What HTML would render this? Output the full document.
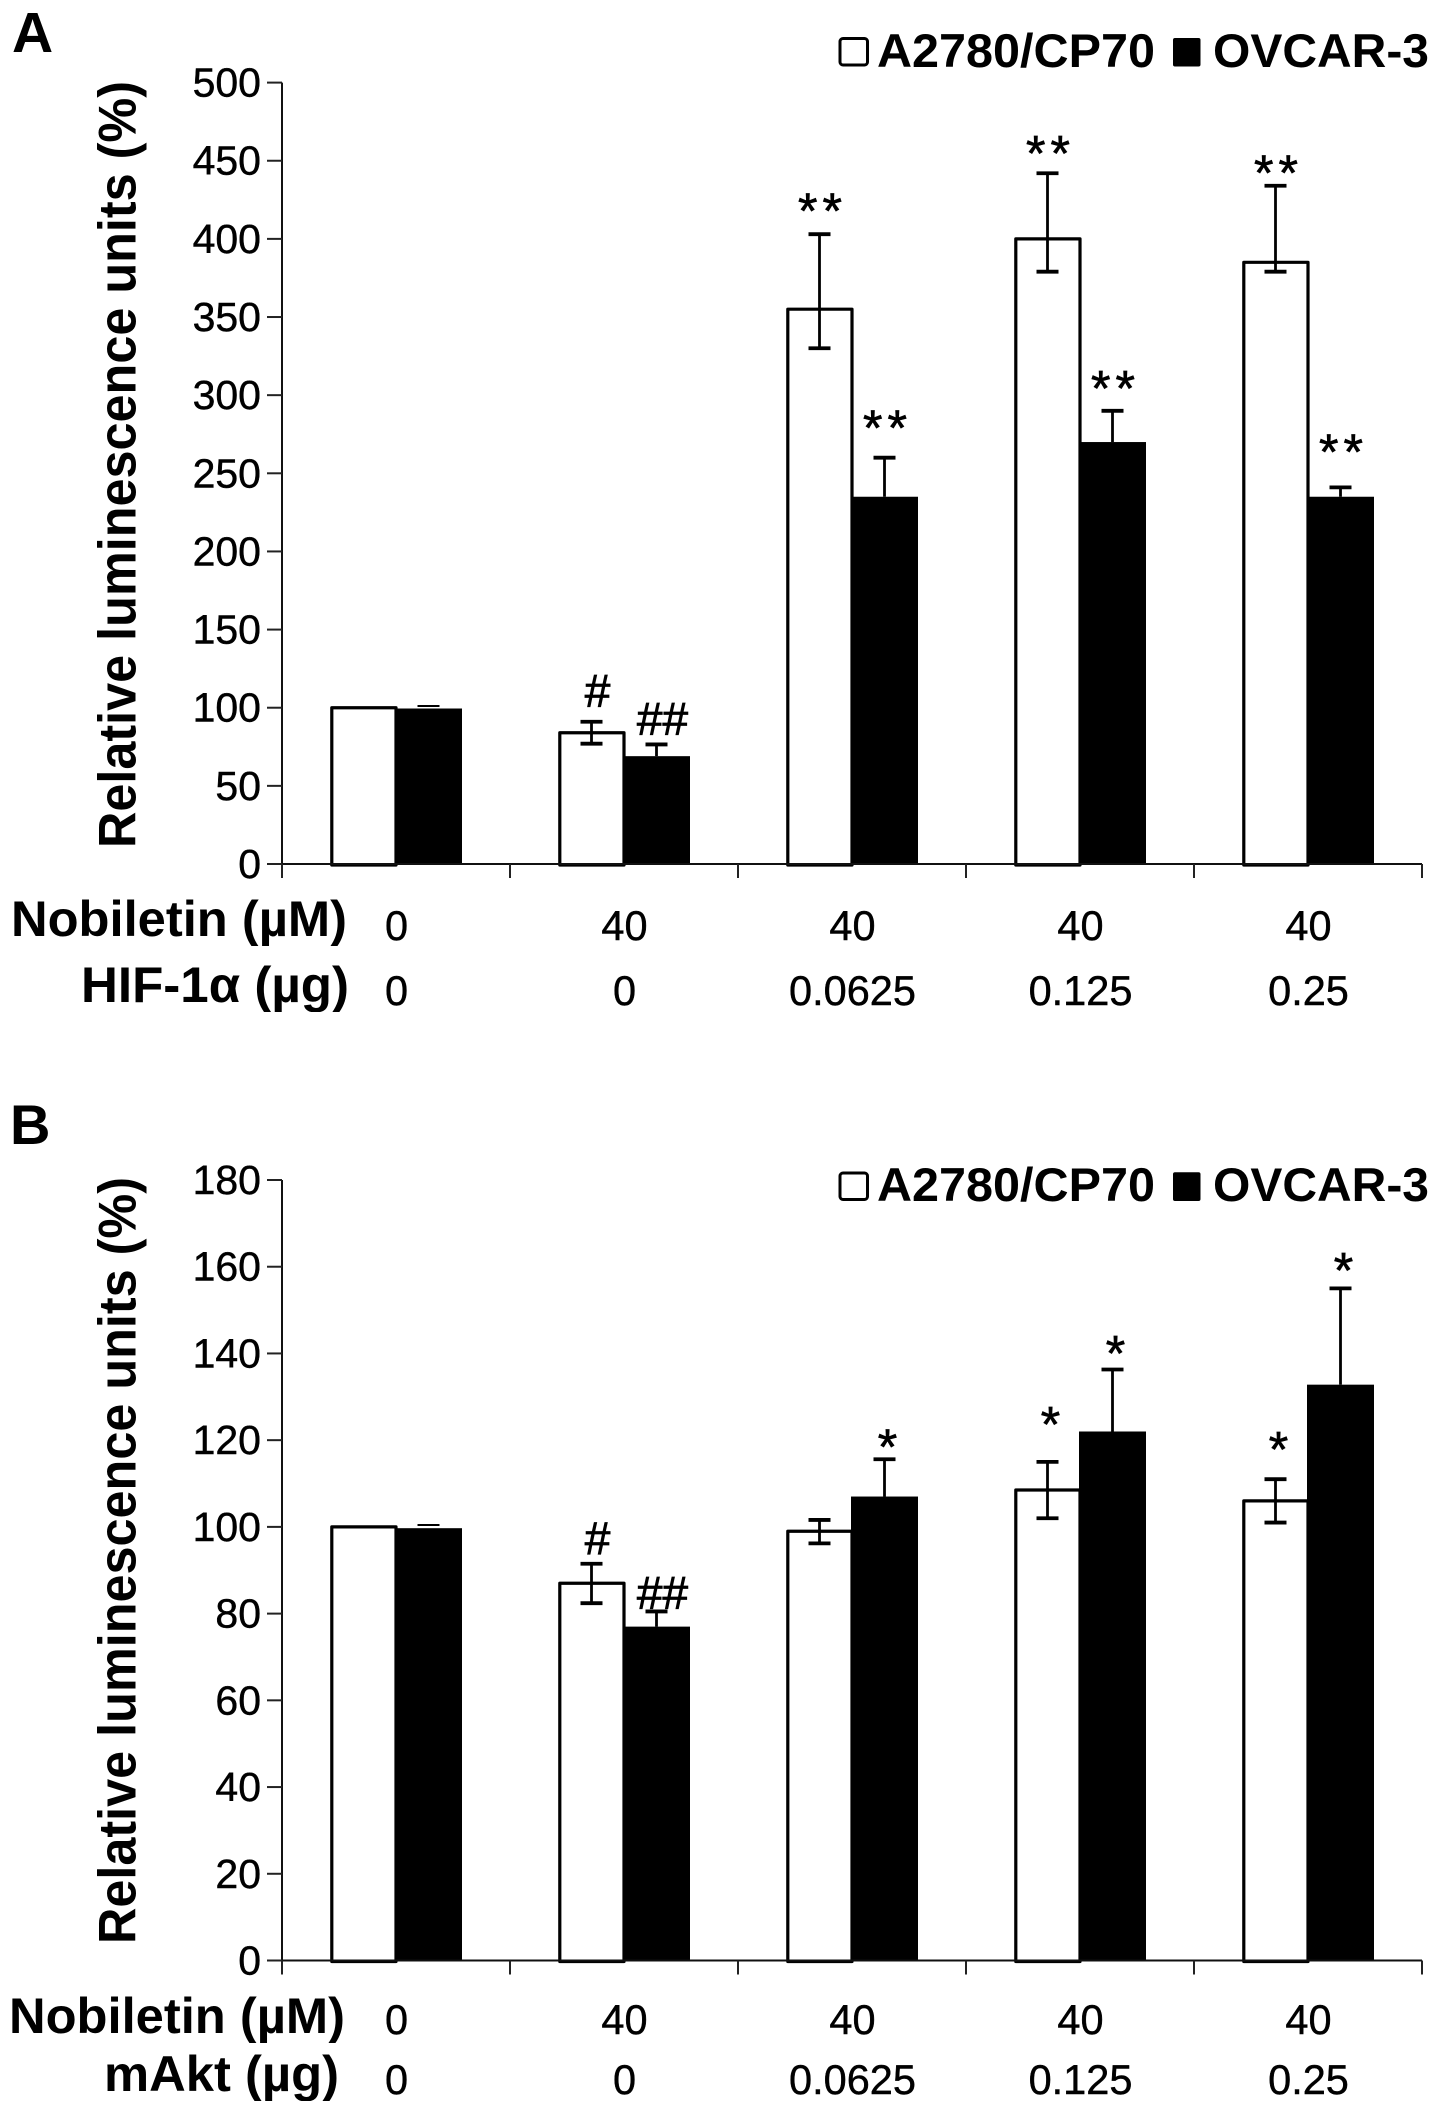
<!DOCTYPE html>
<html lang="en">
<head>
<meta charset="utf-8">
<title>Relative luminescence bar charts</title>
<style>
html,body{margin:0;padding:0;background:#fff;}
svg{display:block;}
text{font-family:"Liberation Sans",Arial,sans-serif;fill:#000;}
.bold{font-weight:bold;}
.tick{font-size:41px;stroke:#000;stroke-width:0.45px;}
.dose{font-size:41.5px;stroke:#000;stroke-width:0.45px;}
</style>
</head>
<body>
<svg id="figure" xmlns="http://www.w3.org/2000/svg" width="1441" height="2114" viewBox="0 0 1441 2114">
  <defs>
    <clipPath id="clip-a1"><rect x="0" y="890" width="360" height="56"/></clipPath>
    <clipPath id="clip-a2"><rect x="0" y="955" width="360" height="57"/></clipPath>
    <clipPath id="clip-b1"><rect x="0" y="1985" width="360" height="58"/></clipPath>
    <clipPath id="clip-b2"><rect x="0" y="2048" width="360" height="53"/></clipPath>
  </defs>
  <rect x="0" y="0" width="1441" height="2114" fill="#fff"/>

  <text class="bold" x="12" y="52" font-size="57">A</text>
  <text class="bold" x="10" y="1144" font-size="56">B</text>

  <text class="bold" transform="translate(135.5,848) rotate(-90)" font-size="53" textLength="767" lengthAdjust="spacingAndGlyphs">Relative luminescence units (%)</text>
  <text class="bold" transform="translate(135.5,1944) rotate(-90)" font-size="53" textLength="767" lengthAdjust="spacingAndGlyphs">Relative luminescence units (%)</text>

  <g>
    <rect x="840" y="38.5" width="27.5" height="26.5" rx="3" fill="#fff" stroke="#000" stroke-width="3"/>
    <text class="bold" x="877" y="67" font-size="47" textLength="278" lengthAdjust="spacingAndGlyphs">A2780/CP70</text>
    <rect x="1173" y="38" width="27.5" height="28.5" rx="2" fill="#000"/>
    <text class="bold" x="1213" y="67" font-size="47" textLength="216" lengthAdjust="spacingAndGlyphs">OVCAR-3</text>
  </g>
  <g>
    <rect x="840" y="1173" width="27.5" height="26.5" rx="3" fill="#fff" stroke="#000" stroke-width="3"/>
    <text class="bold" x="877" y="1201" font-size="47" textLength="278" lengthAdjust="spacingAndGlyphs">A2780/CP70</text>
    <rect x="1173" y="1172.3" width="27.5" height="28.7" rx="2" fill="#000"/>
    <text class="bold" x="1213" y="1201" font-size="47" textLength="216" lengthAdjust="spacingAndGlyphs">OVCAR-3</text>
  </g>

  <text class="bold" clip-path="url(#clip-a1)" x="11" y="936" font-size="50" textLength="336" lengthAdjust="spacingAndGlyphs">Nobiletin (µM)</text>
  <text class="bold" clip-path="url(#clip-a2)" x="81" y="1002" font-size="50" textLength="268" lengthAdjust="spacingAndGlyphs">HIF-1α (µg)</text>
  <text class="bold" clip-path="url(#clip-b1)" x="9" y="2033" font-size="50" textLength="336" lengthAdjust="spacingAndGlyphs">Nobiletin (µM)</text>
  <text class="bold" clip-path="url(#clip-b2)" x="104" y="2091" font-size="50" textLength="235" lengthAdjust="spacingAndGlyphs">mAkt (µg)</text>

  <g id="panel-a"></g>
  <g id="panel-b"></g>
</svg>

<script>
// Shared categories
var nobiletinDose = ['0', '40', '40', '40', '40'];
var plasmidDose = ['0', '0', '0.0625', '0.125', '0.25'];

// Panel A values
var ticksA = [0, 50, 100, 150, 200, 250, 300, 350, 400, 450, 500];
var whiteA = [100, 84, 355, 400, 385];
var blackA = [99.5, 69, 235, 270, 235];
var whiteHighA = [100, 91, 403, 442, 434];
var whiteLowA = [100, 77, 330, 379, 379];
var blackHighA = [100.5, 76.5, 260, 290, 241];
var sigWhiteA = ['', '#', '**', '**', '**'];
var sigBlackA = ['', '##', '**', '**', '**'];
var sigGapWhiteA = [0, 9.4, 13.4, 10.9, 6.4];
var sigGapBlackA = [0, 6, 17.3, 12.8, 21];

// Panel B values
var ticksB = [0, 20, 40, 60, 80, 100, 120, 140, 160, 180];
var whiteB = [100, 87, 99, 108.5, 106];
var blackB = [99.7, 77, 107, 122, 132.8];
var whiteHighB = [100, 91.5, 101.6, 115, 111];
var whiteLowB = [100, 82.4, 96.2, 102, 101];
var blackHighB = [100.2, 80.5, 115.6, 136.3, 155];
var sigWhiteB = ['', '#', '', '*', '*'];
var sigBlackB = ['', '##', '*', '*', '*'];
var sigGapWhiteB = [0, 2.1, 0, 8, 6.3];
var sigGapBlackB = [0, 0.6, 2.3, 3.1, 3.5];

var SVG_NS = 'http://www.w3.org/2000/svg';

function make(parent, tag, attrs, content) {
  var node = document.createElementNS(SVG_NS, tag);
  for (var key in attrs) {
    node.setAttribute(key, attrs[key]);
  }
  if (content !== undefined) {
    node.textContent = content;
  }
  parent.appendChild(node);
  return node;
}

function drawPanel(root, prefix, opts) {
  var axisX = 282;
  var plotRight = 1422;
  var groupCount = nobiletinDose.length;
  var groupStep = (plotRight - axisX) / groupCount;
  var barW = 65;

  function xCenter(i) {
    return axisX + groupStep * (i + 0.5);
  }
  function yPos(v) {
    return opts.y0 - (v / opts.max) * (opts.y0 - opts.yTop);
  }

  var el;

  // Bars first so that axes and error bars overlay them
  for (var b = 0; b < groupCount; b++) {
    var cx = xCenter(b);

    el = make(root, 'rect', {x: cx - barW + 0.8, y: yPos(opts.white[b]), width: barW - 0.8, height: opts.y0 - yPos(opts.white[b]) + 1, fill: '#fff', stroke: '#000', 'stroke-width': 3.2, 'stroke-linejoin': 'round'});
    
    

    el = make(root, 'rect', {x: cx - 1, y: yPos(opts.black[b]), width: barW + 2, height: opts.y0 - yPos(opts.black[b]) + 1, fill: '#000'});
    
    
  }

  // Y axis
  el = make(root, 'line', {x1: axisX, x2: axisX, y1: yPos(opts.max), y2: opts.y0 + 14, stroke: '#111', 'stroke-width': 2});
  
  

  // X axis
  el = make(root, 'line', {x1: axisX - 15, x2: plotRight, y1: opts.y0, y2: opts.y0, stroke: '#111', 'stroke-width': 2});
  
  

  // Y ticks
  opts.ticks.forEach(function (t) {
    var y = yPos(t);
    var mark = make(root, 'line', {x1: axisX - 15, x2: axisX, y1: y, y2: y, stroke: '#222', 'stroke-width': 2});
    
    
    var label = make(root, 'text', {x: 261, y: y + 14, 'text-anchor': 'end', 'class': 'tick'}, String(t));
    
    
  });

  // X ticks
  for (var k = 0; k <= groupCount; k++) {
    var tx = axisX + groupStep * k;
    el = make(root, 'line', {x1: tx, x2: tx, y1: opts.y0, y2: opts.y0 + 14, stroke: '#222', 'stroke-width': 2});
    
    
  }

  // Error bars
  function errorBar(x, yHigh, yLow, name) {
    var g = make(root, 'g', {stroke: '#000'});
    
    
    make(g, 'line', {x1: x, x2: x, y1: yHigh, y2: yLow, 'stroke-width': 2.8});
    make(g, 'line', {x1: x - 11, x2: x + 11, y1: yHigh, y2: yHigh, 'stroke-width': 3.8});
    if (yLow !== null && name.indexOf('a2780') !== -1) {
      make(g, 'line', {x1: x - 11, x2: x + 11, y1: yLow, y2: yLow, 'stroke-width': 3.8});
    }
  }

  // Significance marks
  function sigMark(x, symbol, yBottom, name) {
    var isStar = symbol.charAt(0) === '*';
    var size = isStar ? 50 : 46;
    var attrs = {x: isStar ? x : x + 3, y: isStar ? yBottom + 0.29 * size : yBottom, 'text-anchor': 'middle', 'font-size': size};
    if (isStar) {
      attrs['letter-spacing'] = symbol.length > 1 ? 5 : 0;
      attrs.stroke = '#000';
      attrs['stroke-width'] = 0.7;
    } else {
      attrs.stroke = '#000';
      attrs['stroke-width'] = 0.8;
    }
    var t = make(root, 'text', attrs, symbol);
    
    
  }

  for (var i = 1; i < groupCount; i++) {
    var c = xCenter(i);
    errorBar(c - barW / 2, yPos(opts.whiteHigh[i]), yPos(opts.whiteLow[i]), prefix + '-error-a2780-' + i);
    errorBar(c + barW / 2, yPos(opts.blackHigh[i]), yPos(opts.black[i]), prefix + '-error-ovcar3-' + i);
    if (opts.sigWhite[i]) {
      sigMark(c - barW / 2 + 3, opts.sigWhite[i], yPos(opts.whiteHigh[i] + opts.gapWhite[i]), prefix + '-significance-a2780-' + i);
    }
    if (opts.sigBlack[i]) {
      sigMark(c + barW / 2 + 3, opts.sigBlack[i], yPos(opts.blackHigh[i] + opts.gapBlack[i]), prefix + '-significance-ovcar3-' + i);
    }
  }

  // Small cap on control group
  el = make(root, 'line', {x1: xCenter(0) + barW / 2 - 11, x2: xCenter(0) + barW / 2 + 11, y1: yPos(opts.blackHigh[0]) - 1, y2: yPos(opts.blackHigh[0]) - 1, stroke: '#000', 'stroke-width': 2});
  
  

  // Dose rows
  for (var r = 0; r < groupCount; r++) {
    el = make(root, 'text', {x: xCenter(r) + 0.5, y: opts.row1, 'text-anchor': 'middle', 'class': 'dose'}, nobiletinDose[r]);
    
    

    el = make(root, 'text', {x: xCenter(r) + 0.5, y: opts.row2, 'text-anchor': 'middle', 'class': 'dose'}, plasmidDose[r]);
    
    
  }
}

drawPanel(document.getElementById('panel-a'), 'panel-a', {
  y0: 864, yTop: 82.6, max: 500, ticks: ticksA, row1: 940, row2: 1005,
  white: whiteA, black: blackA, whiteHigh: whiteHighA, whiteLow: whiteLowA, blackHigh: blackHighA,
  sigWhite: sigWhiteA, sigBlack: sigBlackA, gapWhite: sigGapWhiteA, gapBlack: sigGapBlackA
});

drawPanel(document.getElementById('panel-b'), 'panel-b', {
  y0: 1960.5, yTop: 1180, max: 180, ticks: ticksB, row1: 2034, row2: 2094,
  white: whiteB, black: blackB, whiteHigh: whiteHighB, whiteLow: whiteLowB, blackHigh: blackHighB,
  sigWhite: sigWhiteB, sigBlack: sigBlackB, gapWhite: sigGapWhiteB, gapBlack: sigGapBlackB
});
</script>
</body>
</html>
